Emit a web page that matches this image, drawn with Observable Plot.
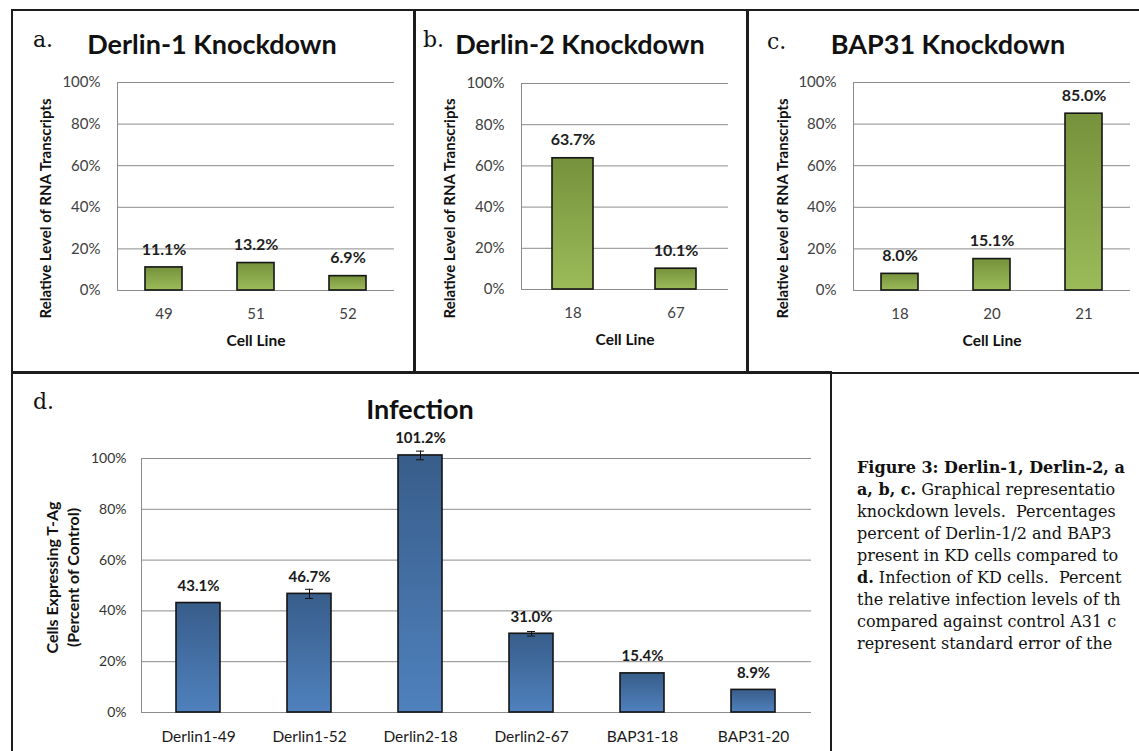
<!DOCTYPE html>
<html>
<head>
<meta charset="utf-8">
<script src="https://cdn.jsdelivr.net/npm/d3@7"></script>
<script src="https://cdn.jsdelivr.net/npm/@observablehq/plot@0.6"></script>
<style>
  html, body { margin: 0; padding: 0; background: #fff; }
  #fig { position: relative; width: 1139px; height: 751px; overflow: hidden; background: #fff; font-family: Lato, "Open Sans", sans-serif; color: #111; }
  .chart { position: absolute; }
  .chart svg { display: block; }
  .box { position: absolute; border: 2.5px solid #1c1c1c; box-sizing: border-box; pointer-events: none; }
  .letter { position: absolute; font-family: "DejaVu Serif", "Liberation Serif", serif; font-size: 22px; line-height: 1; color: #111; transform: translateY(-50%); }
  .title { position: absolute; font-weight: bold; font-size: 27px; line-height: 1; color: #111; white-space: nowrap; transform: translate(-50%, -50%); }
  #caption { position: absolute; left: 857px; top: 457px; font-family: "DejaVu Serif", "Liberation Serif", serif; font-size: 16px; line-height: 22px; color: #111; white-space: nowrap; }
  #caption b { font-weight: bold; }
</style>
</head>
<body>
<div id="fig">
  <div id="chartA" class="chart" style="left:12px;top:10px;width:402px;height:362px"></div>
  <div id="chartB" class="chart" style="left:414px;top:10px;width:333px;height:362px"></div>
  <div id="chartC" class="chart" style="left:747px;top:10px;width:392px;height:362px"></div>
  <div id="chartD" class="chart" style="left:12px;top:372px;width:818px;height:379px"></div>

  <div class="box" style="left:11px;top:9px;width:405px;height:365px"></div>
  <div class="box" style="left:413px;top:9px;width:336px;height:365px"></div>
  <div class="box" style="left:746px;top:9px;width:410px;height:365px"></div>
  <div class="box" style="left:11px;top:371px;width:821px;height:400px"></div>

  <div class="letter" style="left:33px;top:40px">a.</div>
  <div class="title" style="left:212px;top:43px">Derlin-1 Knockdown</div>
  <div class="letter" style="left:423px;top:40px">b.</div>
  <div class="title" style="left:580px;top:43px">Derlin-2 Knockdown</div>
  <div class="letter" style="left:767px;top:42px">c.</div>
  <div class="title" style="left:948px;top:43px">BAP31 Knockdown</div>
  <div class="letter" style="left:33px;top:402px">d.</div>
  <div class="title" style="left:420px;top:408px">Infection</div>

  <div id="caption">
    <div><b>Figure 3: Derlin-1, Derlin-2, a</b></div>
    <div><b>a, b, c.</b> Graphical representatio</div>
    <div>knockdown levels.&nbsp; Percentages</div>
    <div>percent of Derlin-1/2 and BAP3</div>
    <div>present in KD cells compared to</div>
    <div><b>d.</b> Infection of KD cells.&nbsp; Percent</div>
    <div>the relative infection levels of th</div>
    <div>compared against control A31 c</div>
    <div>represent standard error of the</div>
  </div>
</div>
<script>
// ---- data ----
const derlin1Lines = ["49", "51", "52"];
const derlin1Values = [0.111, 0.132, 0.069];

const derlin2Lines = ["18", "67"];
const derlin2Values = [0.637, 0.101];

const bap31Lines = ["18", "20", "21"];
const bap31Values = [0.080, 0.151, 0.850];

const infectionLines = ["Derlin1-49", "Derlin1-52", "Derlin2-18", "Derlin2-67", "BAP31-18", "BAP31-20"];
const infectionValues = [0.431, 0.467, 1.012, 0.310, 0.154, 0.089];
const infectionErrors = [0, 0.018, 0.017, 0.009, 0, 0];

const yTicks = [0, 0.2, 0.4, 0.6, 0.8, 1.0];
const knockdownYLabel = "Relative Level of RNA Transcripts";
const knockdownXLabel = "Cell Line";
const infectionYLabel = "Cells Expressing T-Ag\n(Percent of Control)";

// ---- helpers ----
const NS = "http://www.w3.org/2000/svg";
const pct0 = d3.format(".0%");
const pct1 = d3.format(".1%");

function gradientDefs(id, top, bottom) {
  return () => {
    const defs = document.createElementNS(NS, "defs");
    const g = document.createElementNS(NS, "linearGradient");
    g.setAttribute("id", id);
    g.setAttribute("x1", "0"); g.setAttribute("y1", "0");
    g.setAttribute("x2", "0"); g.setAttribute("y2", "1");
    [[0, top], [1, bottom]].forEach(([o, c]) => {
      const s = document.createElementNS(NS, "stop");
      s.setAttribute("offset", o);
      s.setAttribute("stop-color", c);
      g.appendChild(s);
    });
    defs.appendChild(g);
    return defs;
  };
}

function knockdownChart(lines, values, cfg) {
  const data = lines.map((line, i) => ({line, value: values[i]}));
  return Plot.plot({
    width: cfg.width, height: cfg.height,
    marginLeft: cfg.ml, marginRight: cfg.mr, marginTop: cfg.mt, marginBottom: cfg.mb,
    style: {background: "none", fontFamily: "Lato, 'Open Sans', sans-serif", overflow: "visible"},
    x: {type: "band", domain: lines, paddingInner: 0.6, paddingOuter: 0.3},
    y: {domain: [0, 1]},
    marks: [
      gradientDefs(cfg.gid, "#76923c", "#9bbb59"),
      Plot.gridY({ticks: yTicks, stroke: "#8c8c8c", strokeOpacity: 1, strokeWidth: 1}),
      Plot.frame({anchor: "left", stroke: "#8c8c8c", strokeWidth: 1}),
      Plot.axisY({ticks: yTicks, tickSize: 0, tickPadding: 17, tickFormat: pct0, fontSize: 15, color: "#404040", label: null}),
      Plot.axisX({tickSize: 0, tickPadding: 18, fontSize: 15, color: "#404040", label: null}),
      Plot.barY(data, {x: "line", y: "value", fill: `url(#${cfg.gid})`, stroke: "#151515", strokeWidth: 1.6}),
      Plot.text(data, {x: "line", y: "value", text: d => pct1(d.value), dy: -18, fontWeight: "bold", fontSize: 16, fill: "#1e1e1e"}),
      Plot.text([knockdownYLabel], {frameAnchor: "left", text: d => d, rotate: -90, textAnchor: "middle", lineAnchor: "middle", dx: cfg.ldx, dy: cfg.ldy, fontWeight: "bold", fontSize: 15, fill: "#111"}),
      Plot.text([knockdownXLabel], {frameAnchor: "bottom", text: d => d, dy: 51, textAnchor: "middle", lineAnchor: "middle", fontWeight: "bold", fontSize: 15.5, fill: "#111"})
    ]
  });
}

document.getElementById("chartA").append(knockdownChart(derlin1Lines, derlin1Values,
  {width: 402, height: 362, ml: 105, mr: 20, mt: 72, mb: 82, gid: "gA", ldx: -71, ldy: 22}));
document.getElementById("chartB").append(knockdownChart(derlin2Lines, derlin2Values,
  {width: 333, height: 362, ml: 107, mr: 19, mt: 73, mb: 83, gid: "gB", ldx: -71, ldy: 22}));
document.getElementById("chartC").append(knockdownChart(bap31Lines, bap31Values,
  {width: 392, height: 362, ml: 106, mr: 9, mt: 72, mb: 82, gid: "gC", ldx: -70, ldy: 22}));

// ---- infection chart ----
const infData = infectionLines.map((line, i) => ({line, value: infectionValues[i], err: infectionErrors[i]}));
const errData = infData.filter(d => d.err > 0);

const chartD = Plot.plot({
  width: 818, height: 379,
  marginLeft: 129, marginRight: 19, marginTop: 86, marginBottom: 39,
  style: {background: "none", fontFamily: "Lato, 'Open Sans', sans-serif", overflow: "visible"},
  x: {type: "band", domain: infectionLines, paddingInner: 0.6, paddingOuter: 0.3},
  y: {domain: [0, 1]},
  marks: [
    gradientDefs("gD", "#385d8a", "#4f81bd"),
    Plot.gridY({ticks: yTicks, stroke: "#8c8c8c", strokeOpacity: 1, strokeWidth: 1}),
    Plot.frame({anchor: "left", stroke: "#8c8c8c", strokeWidth: 1}),
    Plot.axisY({ticks: yTicks, tickSize: 0, tickPadding: 15, tickFormat: pct0, fontSize: 14, color: "#333", label: null}),
    Plot.axisX({tickSize: 0, tickPadding: 18, fontSize: 15.5, color: "#1a1a1a", label: null}),
    Plot.barY(infData, {x: "line", y: "value", fill: "url(#gD)", stroke: "#151515", strokeWidth: 1.6}),
    Plot.ruleX(errData, {x: "line", y1: d => d.value - d.err, y2: d => d.value + d.err, stroke: "#111", strokeWidth: 1}),
    Plot.tickY(errData, {x: "line", y: d => d.value + d.err, inset: 18, stroke: "#111", strokeWidth: 1}),
    Plot.tickY(errData, {x: "line", y: d => d.value - d.err, inset: 18, stroke: "#111", strokeWidth: 1}),
    Plot.text(infData, {x: "line", y: "value", text: d => pct1(d.value), dy: -17, fontWeight: "bold", fontSize: 15, fill: "#1a1a1a"}),
    Plot.text([infectionYLabel], {frameAnchor: "left", text: d => d, rotate: -90, textAnchor: "middle", lineAnchor: "middle", dx: -80, dy: -8, lineHeight: 1.35, fontWeight: "bold", fontSize: 16, fill: "#111"})
  ]
});
document.getElementById("chartD").append(chartD);
</script>
</body>
</html>
